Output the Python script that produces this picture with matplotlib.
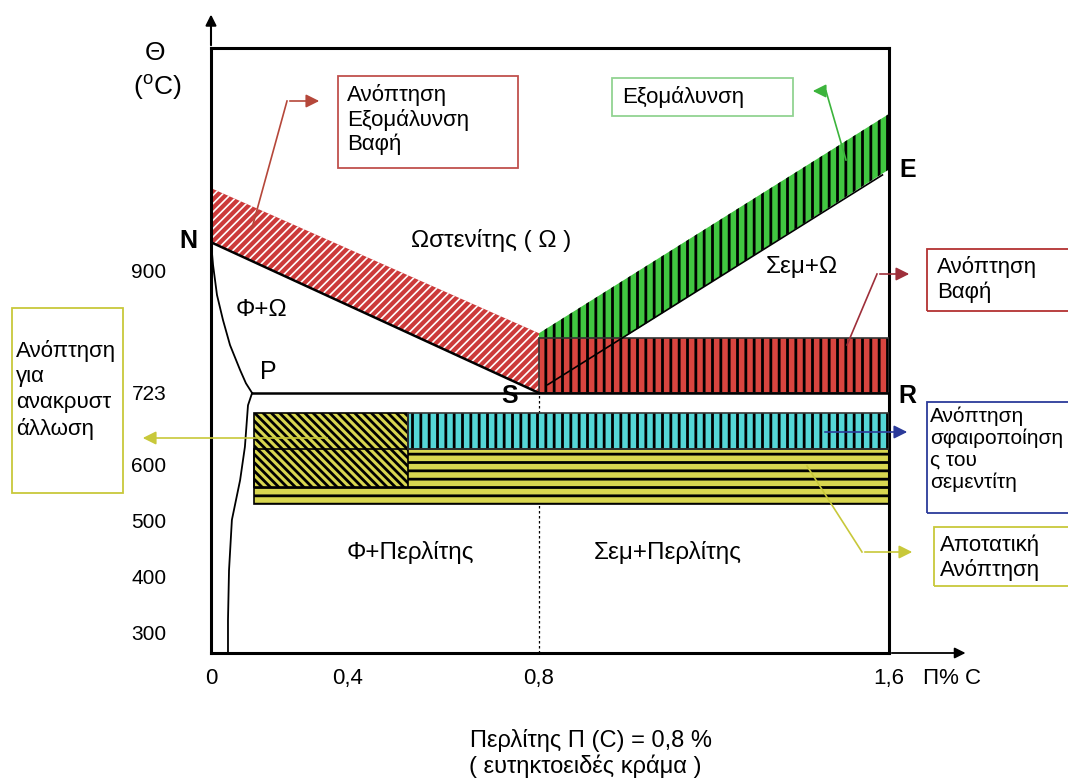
import numpy as np
import matplotlib
matplotlib.use("Agg")
import matplotlib.pyplot as plt
from matplotlib.patches import Rectangle, FancyArrowPatch
from matplotlib.lines import Line2D

plt.rcParams["font.family"] = ["Liberation Sans", "DejaVu Sans"]
plt.rcParams["mathtext.fontset"] = "custom"
plt.rcParams["mathtext.rm"] = "Liberation Sans"

# schematic (non-uniform) axes: value knots and their drawn spacing
C_KNOTS = [0, 0.4, 0.8, 1.6]
C_SPAN = [0, 137, 328, 678]
T_KNOTS = [264, 300, 400, 500, 600, 723, 900, 1220]
T_SPAN = [0, 20, 76, 132, 188, 260, 383, 605]

C_TICKS = [0, 0.4, 0.8, 1.6]
C_TICK_LABELS = ["0", "0,4", "0,8", "1,6"]
T_TICKS = [300, 400, 500, 600, 723, 900]
T_TICK_LABELS = ["300", "400", "500", "600", "723", "900"]

# phase boundaries (%C, degC)
NP_C = [0, 0.006, 0.0175, 0.035, 0.0555, 0.085, 0.102, 0.12]
NP_T = [940, 907, 864, 828, 792, 756, 737, 723]
PQ_C = [0.12, 0.108, 0.099, 0.085, 0.061, 0.0526, 0.0496, 0.0496]
PQ_T = [723, 702, 631, 573, 502, 412, 323, 264]
NS_C = [0, 0.8]
NS_T = [940, 723]
PR_C = [0.12, 1.6]
PR_T = [723, 723]
SE_C = [0.82, 1.585]
SE_T = [735, 1037]
EUTECTOID_C = 0.8
EUTECTOID_T = 723

# heat-treatment ranges
FULL_ANNEAL_C = [0, 0.8, 0.8, 0]
FULL_ANNEAL_T = [1018, 809, 723, 940]
NORMALIZE_C = [0.8, 1.6, 1.6, 0.992, 0.8]
NORMALIZE_T = [809, 1125, 1045, 802, 802]
HARDEN_C = [0.8, 1.6]
HARDEN_T = [723, 802]
SPHEROID_C = [0.526, 1.6]
SPHEROID_T = [627, 689]
RECRYST_C = [0.126, 0.526]
RECRYST_T = [561, 689]
STRESS_C = [0.126, 1.6]
STRESS_T = [530, 627]

RED = "#d9453f"
GREEN = "#41c641"
CYAN = "#55d6d6"
YELLOW = "#d8d650"

W, H = 1068, 778


def fp(x, y):
    # pixel position (from top-left) -> figure fraction
    return x / W, 1 - y / H


def rect(cs, ts):
    return [cs[0], cs[1], cs[1], cs[0]], [ts[0], ts[0], ts[1], ts[1]]


def band(ax, cs, ts, face, hatch, hcol, hlw, outline=None):
    poly, = ax.fill(cs, ts, facecolor=face, edgecolor=hcol, hatch=hatch,
                    linewidth=0, zorder=2)
    if hasattr(poly, "set_hatch_linewidth"):
        poly.set_hatch_linewidth(hlw)
    if outline:
        ax.fill(cs, ts, fill=False, edgecolor=outline, linewidth=1.2, zorder=3)


def callout(fig, pts, color):
    xs = [fp(*p)[0] for p in pts]
    ys = [fp(*p)[1] for p in pts]
    fig.add_artist(Line2D(xs[:-1], ys[:-1], color=color, lw=1.2,
                          transform=fig.transFigure))
    fig.add_artist(FancyArrowPatch((xs[-2], ys[-2]), (xs[-1], ys[-1]),
                                   arrowstyle="-|>", mutation_scale=20,
                                   color=color, lw=1.2,
                                   transform=fig.transFigure))


def box(fig, x0, y0, x1, y1, color, text, tx, ty, ls=1.2, size=16):
    fig.add_artist(Rectangle(fp(x0, y1), (x1 - x0) / W, (y1 - y0) / H,
                             fill=False, edgecolor=color, lw=1.3,
                             transform=fig.transFigure))
    fig.text(*fp(tx, ty), text, fontsize=size, ha="left", va="top",
             linespacing=ls)


plt.rcParams["hatch.linewidth"] = 2.0

fig = plt.figure(figsize=(W / 100, H / 100), dpi=100)
ax = fig.add_axes([211 / W, 1 - 653 / H, (889 - 211) / W, (653 - 48) / H])
ax.set_xscale("function", functions=(lambda c: np.interp(c, C_KNOTS, C_SPAN),
                                     lambda s: np.interp(s, C_SPAN, C_KNOTS)))
ax.set_yscale("function", functions=(lambda t: np.interp(t, T_KNOTS, T_SPAN),
                                     lambda s: np.interp(s, T_SPAN, T_KNOTS)))
ax.set_xlim(0, 1.6)
ax.set_ylim(T_KNOTS[0], T_KNOTS[-1])

# treatment bands
band(ax, FULL_ANNEAL_C, FULL_ANNEAL_T, "#cc3a3a", "////", "white", 1.2)
band(ax, NORMALIZE_C, NORMALIZE_T, GREEN, "||", "black", 2.0)
band(ax, *rect(HARDEN_C, HARDEN_T), RED, "||", "black", 2.0, "#333333")
band(ax, *rect(STRESS_C, STRESS_T), YELLOW, "--", "black", 2.0, "black")
band(ax, *rect(RECRYST_C, RECRYST_T), YELLOW, "\\\\\\\\", "black", 2.0, "black")
band(ax, *rect(SPHEROID_C, SPHEROID_T), CYAN, "||", "black", 2.0, "#333333")

# phase boundaries
ax.plot([EUTECTOID_C, EUTECTOID_C], [T_KNOTS[0], EUTECTOID_T], color="black",
        lw=0.9, ls=(0, (2, 2)), zorder=1)
ax.plot(NS_C, NS_T, color="black", lw=1.8, zorder=4)
ax.plot(PR_C, PR_T, color="black", lw=1.8, zorder=4)
ax.plot(SE_C, SE_T, color="black", lw=1.2, zorder=4)
ax.plot(NP_C, NP_T, color="black", lw=1.3, zorder=4)
ax.plot(PQ_C, PQ_T, color="black", lw=1.3, zorder=4)

ax.set_xticks(C_TICKS, C_TICK_LABELS)
ax.set_yticks(T_TICKS, T_TICK_LABELS)
ax.tick_params(length=0, labelsize=15)
ax.tick_params(axis="y", pad=32)
ax.tick_params(axis="x", pad=11, labelsize=16)
for sp in ax.spines.values():
    sp.set_linewidth(2.2)

# axis arrows
ax.annotate("", xy=(0, 1.06), xytext=(0, 1), xycoords="axes fraction",
            arrowprops=dict(arrowstyle="-|>", color="black", lw=1.5,
                            mutation_scale=16))
ax.annotate("", xy=(1.117, 0), xytext=(1, 0), xycoords="axes fraction",
            arrowprops=dict(arrowstyle="-|>", color="black", lw=1.3,
                            mutation_scale=16))

# region and point labels
fig.text(*fp(155, 53), "Θ", fontsize=19, ha="center", va="center")
fig.text(*fp(157, 87), r"($^{\rm o}$C)", fontsize=19, ha="center", va="center")
fig.text(*fp(952, 678), "Π% C", fontsize=16, ha="center", va="center")
fig.text(*fp(491, 240), "Ωστενίτης ( Ω )", fontsize=17.5, ha="center", va="center")
fig.text(*fp(261, 310), "Φ+Ω", fontsize=17.5, ha="center", va="center")
fig.text(*fp(802, 267), "Σεμ+Ω", fontsize=17.5, ha="center", va="center")
fig.text(*fp(410, 552), "Φ+Περλίτης", fontsize=17.5, ha="center", va="center")
fig.text(*fp(668, 552), "Σεμ+Περλίτης", fontsize=17.5, ha="center", va="center")
fig.text(*fp(188, 241), "N", fontsize=18, fontweight="bold", ha="center", va="center")
fig.text(*fp(268, 372), "P", fontsize=18, ha="center", va="center")
fig.text(*fp(510, 396), "S", fontsize=18, fontweight="bold", ha="center", va="center")
fig.text(*fp(908, 170), "E", fontsize=18, fontweight="bold", ha="center", va="center")
fig.text(*fp(907, 396), "R", fontsize=18, fontweight="bold", ha="center", va="center")
fig.text(*fp(591, 740), "Περλίτης Π (C) = 0,8 %", fontsize=17, ha="center", va="center")
fig.text(*fp(585, 766), "( ευτηκτοειδές κράμα )", fontsize=17, ha="center", va="center")

# treatment call-outs
box(fig, 338, 76, 518, 168, "#c0504d", "Ανόπτηση\nΕξομάλυνση\nΒαφή", 347, 84, ls=1.15)
callout(fig, [(252, 228), (287, 101), (322, 101)], "#b5473a")
box(fig, 612, 78, 793, 116, "#92d392", "Εξομάλυνση", 622, 86)
callout(fig, [(846, 160), (826, 91), (810, 91)], "#3cb43c")
box(fig, 927, 249, 1080, 311, "#b33232", "Ανόπτηση\nΒαφή", 937, 256, ls=1.22)
callout(fig, [(847, 345), (877, 274), (912, 274)], "#9e2f3a")
box(fig, 927, 402, 1080, 513, "#2b3a9a", "Ανόπτηση\nσφαιροποίηση\nς του\nσεμεντίτη",
    930, 407, ls=1.16, size=15)
callout(fig, [(822, 432), (910, 432)], "#2b3a9a")
box(fig, 934, 527, 1080, 586, "#c8c83a", "Αποτατική\nΑνόπτηση", 940, 535, ls=1.12)
callout(fig, [(807, 466), (862, 552), (915, 552)], "#c8c83a")
box(fig, 12, 308, 123, 493, "#c8c83a", "Ανόπτηση\nγια\nανακρυστ\nάλλωση", 16, 340,
    ls=1.28)
callout(fig, [(330, 438), (140, 438)], "#c8c83a")

fig.savefig("out.png", dpi=100)
